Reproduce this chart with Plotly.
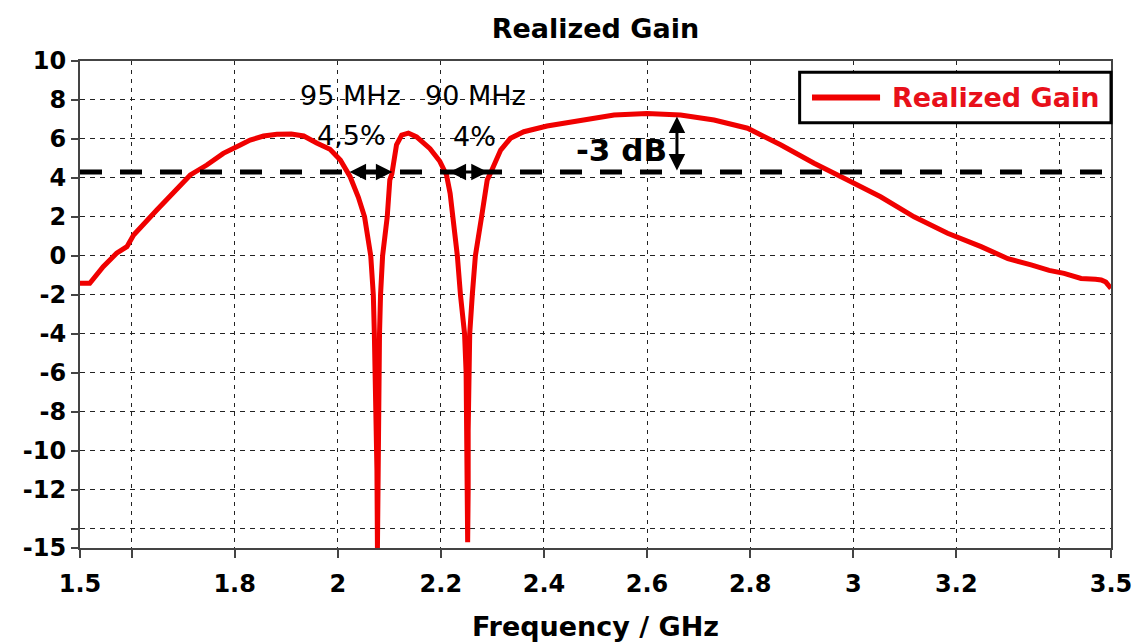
import plotly.graph_objects as go

# realized gain (GHz, dB)
freq = [1.500, 1.519, 1.545, 1.571, 1.591, 1.604, 1.649, 1.688, 1.714, 1.746,
        1.778, 1.811, 1.830, 1.856, 1.882, 1.910, 1.934, 1.960, 1.985, 2.005, 2.024,
        2.040, 2.052, 2.064, 2.069, 2.071, 2.073, 2.075, 2.076, 2.077,
        2.078, 2.078, 2.079, 2.081, 2.083, 2.087, 2.096, 2.101, 2.105, 2.114,
        2.124, 2.137, 2.153, 2.179, 2.198, 2.211, 2.218, 2.224, 2.232, 2.238,
        2.246, 2.249, 2.250, 2.251, 2.252, 2.253, 2.253, 2.254, 2.256, 2.261,
        2.267, 2.279, 2.290, 2.296, 2.316, 2.335, 2.361, 2.406, 2.471, 2.536,
        2.600, 2.665, 2.730, 2.795, 2.859, 2.924, 2.989, 3.053, 3.118, 3.183,
        3.248, 3.280, 3.300, 3.345, 3.380, 3.409, 3.420, 3.442, 3.470, 3.481,
        3.490, 3.500]
gain = [-1.41, -1.41, -0.56, 0.13, 0.47, 1.07, 2.35, 3.38, 4.15, 4.66,
        5.26, 5.69, 5.94, 6.15, 6.24, 6.25, 6.15, 5.78, 5.47, 4.92, 4.06,
        3.00, 2.00, 0.00, -2.00, -4.00, -6.00, -8.00, -11.0, -15.0,
        -11.0, -8.00, -6.00, -4.00, -2.00, 0.00, 2.00, 3.90, 4.20, 5.70,
        6.20, 6.30, 6.10, 5.50, 4.85, 4.15, 3.20, 2.00, 0.00, -2.00,
        -4.00, -6.00, -9.00, -12.0, -14.7, -12.0, -9.00, -6.00, -4.00, -2.00,
        0.00, 2.00, 3.90, 4.23, 5.43, 6.03, 6.37, 6.66, 6.97, 7.23,
        7.30, 7.23, 6.97, 6.55, 5.70, 4.75, 3.89, 3.03, 2.00, 1.16,
        0.47, 0.13, -0.15, -0.47, -0.75, -0.90, -1.00, -1.16, -1.20, -1.24,
        -1.35, -1.67]

x_ticks = [1.5, 1.6, 1.8, 2.0, 2.2, 2.4, 2.6, 2.8, 3.0, 3.2, 3.4, 3.5]
x_labels = ['1.5', '', '1.8', '2', '2.2', '2.4', '2.6', '2.8', '3', '3.2', '', '3.5']
y_ticks = [10, 8, 6, 4, 2, 0, -2, -4, -6, -8, -10, -12, -14, -15]
y_labels = ['10', '8', '6', '4', '2', '0', '-2', '-4', '-6', '-8', '-10', '-12', '', '-15']

thr = max(gain) - 3

bold = dict(family='DejaVu Sans', size=24, color='black', weight='bold')
plain = dict(family='DejaVu Sans', size=27, color='black')

fig = go.Figure()
fig.add_trace(go.Scatter(x=freq, y=gain, mode='lines', name='Realized Gain',
                         line=dict(color='#f00000', width=5)))

# -3 dB level
fig.add_shape(type='line', xref='paper', x0=0, x1=1, y0=thr, y1=thr, layer='above',
              line=dict(color='black', width=5, dash='22px,18px'))

# legend box drawn by hand so the sample line is long like the original
fig.add_shape(type='rect', xref='paper', yref='paper', x0=0.698, x1=1.0, y0=0.873, y1=0.977,
              line=dict(color='black', width=3), fillcolor='white', layer='above')
fig.add_shape(type='line', xref='paper', yref='paper', x0=0.710, x1=0.776, y0=0.925, y1=0.925,
              line=dict(color='#f00000', width=6), layer='above')
fig.add_annotation(xref='paper', yref='paper', x=0.786, y=0.925, xanchor='left', yanchor='middle',
                   showarrow=False, text='<b>Realized Gain</b>',
                   font=dict(family='DejaVu Sans', size=27, color='#e8101a'))

# bandwidth notes
fig.add_annotation(x=2.024, y=8.25, text='95 MHz', showarrow=False, font=plain)
fig.add_annotation(x=2.026, y=6.2, text='4,5%', showarrow=False, font=plain)
fig.add_annotation(x=2.268, y=8.25, text='90 MHz', showarrow=False, font=plain)
fig.add_annotation(x=2.266, y=6.1, text='4%', showarrow=False, font=plain)
fig.add_annotation(x=2.551, y=5.43, text='<b>-3 dB</b>', showarrow=False,
                   font=dict(family='DejaVu Sans', size=31, color='black'))

arrow = dict(showarrow=True, text='', axref='x', ayref='y', arrowhead=2, arrowside='end+start',
             arrowsize=1.1, arrowwidth=3, arrowcolor='black')
fig.add_annotation(x=2.106, y=thr, ax=2.020, ay=thr, **arrow)
fig.add_annotation(x=2.291, y=thr, ax=2.214, ay=thr, **arrow)
fig.add_annotation(x=2.658, y=7.15, ax=2.658, ay=thr, **arrow)

fig.update_layout(
    width=1142, height=643,
    margin=dict(l=80, r=31, t=61, b=95),
    plot_bgcolor='white', paper_bgcolor='white',
    showlegend=False,
    title=dict(text='<b>Realized Gain</b>', xref='paper', x=0.5, xanchor='center',
               y=0.956, yanchor='middle', font=dict(family='DejaVu Sans', size=27, color='black')),
    xaxis=dict(range=[1.5, 3.5], tickvals=x_ticks, ticktext=x_labels, tickfont=bold,
               showgrid=True, gridcolor='#222', gridwidth=1.3, griddash='4px,5px',
               showline=True, linecolor='#444', linewidth=2, mirror=True,
               ticks='outside', ticklen=8, tickwidth=2, tickcolor='#444', zeroline=False,
               ticklabelstandoff=5, automargin=False,
               title=dict(text='<b>Frequency / GHz</b>', standoff=20,
                          font=dict(family='DejaVu Sans', size=27, color='black'))),
    yaxis=dict(range=[-15, 10], tickvals=y_ticks, ticktext=y_labels, tickfont=bold,
               showgrid=True, gridcolor='#222', gridwidth=1.3, griddash='5px,5px',
               showline=True, linecolor='#444', linewidth=2, mirror=True, automargin=False,
               ticks='outside', ticklen=7, tickwidth=2, tickcolor='#444', zeroline=False),
)

fig.write_html('out.html', config={'displayModeBar': False},
               post_script="document.body.style.margin='0';")
